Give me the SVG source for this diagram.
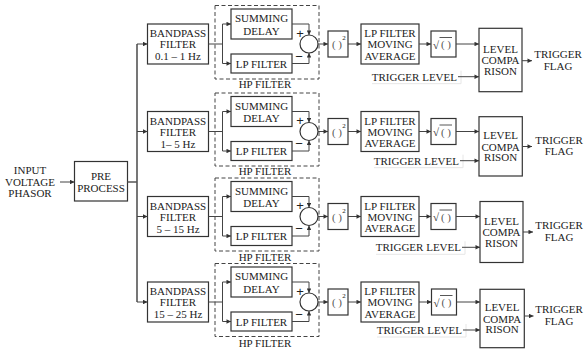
<svg xmlns="http://www.w3.org/2000/svg" width="584" height="352" viewBox="0 0 584 352">
<style>
.box{fill:#fff;stroke:#333;stroke-width:1.2}
.dash{fill:none;stroke:#444;stroke-width:1;stroke-dasharray:4 2.5}
.t{font-family:'Liberation Serif','Times New Roman','DejaVu Serif',serif;font-size:11px;fill:#222;text-anchor:middle}
.e{text-anchor:end}
.g{fill:#555}
.s{font-size:7px}
.pm{font-family:'Liberation Sans',sans-serif;font-size:13px;fill:#222;text-anchor:middle}
.c{fill:none;stroke:#444;stroke-width:1}
.a{marker-end:url(#ah)}
.bus{fill:none;stroke:#555;stroke-width:1.6}
.faint{fill:none;stroke:#e6e6e6;stroke-width:1}
.ol{stroke:#444;stroke-width:0.9}
</style>
<defs>
<marker id="ah" viewBox="0 0 6 6" refX="6" refY="3" markerWidth="5" markerHeight="4.5" markerUnits="userSpaceOnUse" orient="auto"><path d="M0,0 L6,3 L0,6 z" fill="#333"/></marker>
</defs>

<g id="input"><text class="t"><tspan x="30" y="173.5">INPUT</tspan><tspan x="30" y="185.5">VOLTAGE</tspan><tspan x="30" y="197">PHASOR</tspan></text></g>
<g id="preprocess"><rect class="box" x="74.5" y="161.5" width="53" height="39.5"/><text class="t"><tspan x="101" y="179.5">PRE</tspan><tspan x="101" y="191.5">PROCESS</tspan></text></g>

<!-- Row 1 -->
<g id="bp1"><rect class="box" x="147.5" y="24" width="61" height="40"/><text class="t"><tspan x="178" y="37">BANDPASS</tspan><tspan x="178" y="48">FILTER</tspan><tspan x="178" y="60">0.1 – 1 Hz</tspan></text></g>
<g id="hp1"><rect class="dash" x="215" y="5.5" width="104" height="73.5"/><text class="t" x="265" y="88">HP FILTER</text></g>
<g id="sd1"><rect class="box" x="231" y="9" width="61" height="30"/><text class="t"><tspan x="261.5" y="22">SUMMING</tspan><tspan x="261.5" y="34.5">DELAY</tspan></text></g>
<g id="lp1"><rect class="box" x="231" y="54" width="61" height="19"/><text class="t" x="261.5" y="67.5">LP FILTER</text></g>
<g id="sum1"><circle class="box" cx="309" cy="44" r="9"/><text class="pm" x="300" y="37.5">+</text><text class="pm" x="299" y="60.5">−</text></g>
<g id="sq1"><rect class="box" x="328" y="31" width="20" height="26"/><text class="t g" x="337" y="48">( )</text><text class="t s" x="344" y="40">2</text></g>
<g id="ma1"><rect class="box" x="361" y="24" width="58" height="40"/><text class="t"><tspan x="390" y="37">LP FILTER</tspan><tspan x="390" y="48">MOVING</tspan><tspan x="390" y="59.5">AVERAGE</tspan></text></g>
<g id="sqrt1"><rect class="box" x="431" y="31" width="25" height="26"/><text class="t" x="436" y="48.5">√</text><text class="t g" x="446" y="48">( )</text><line class="ol" x1="439.5" y1="37.5" x2="452" y2="37.5"/></g>
<g id="lc1"><rect class="box" x="479" y="28.3" width="43" height="63.4"/><text class="t"><tspan x="500.5" y="52.5">LEVEL</tspan><tspan x="500.5" y="64.2">COMPA</tspan><tspan x="500.5" y="74.8">RISON</tspan></text></g>
<g id="tl1"><path class="faint" d="M372,83.7 H461 V70.7"/><text class="t e" x="457" y="80.5">TRIGGER LEVEL</text></g>
<g id="tf1"><text class="t"><tspan x="558" y="58.1">TRIGGER</tspan><tspan x="558" y="69.5">FLAG</tspan></text></g>

<!-- Row 2 -->
<g id="bp2"><rect class="box" x="147.5" y="111.5" width="61" height="40"/><text class="t"><tspan x="178" y="124.5">BANDPASS</tspan><tspan x="178" y="135.5">FILTER</tspan><tspan x="178" y="147.5">1– 5 Hz</tspan></text></g>
<g id="hp2"><rect class="dash" x="215" y="93" width="104" height="73"/><text class="t" x="265" y="175">HP FILTER</text></g>
<g id="sd2"><rect class="box" x="231" y="96.5" width="61" height="30"/><text class="t"><tspan x="261.5" y="109.5">SUMMING</tspan><tspan x="261.5" y="122">DELAY</tspan></text></g>
<g id="lp2"><rect class="box" x="231" y="141.5" width="61" height="19"/><text class="t" x="261.5" y="155">LP FILTER</text></g>
<g id="sum2"><circle class="box" cx="309" cy="131.5" r="9"/><text class="pm" x="300" y="125">+</text><text class="pm" x="299" y="148">−</text></g>
<g id="sq2"><rect class="box" x="328" y="118.5" width="20" height="26"/><text class="t g" x="337" y="135.5">( )</text><text class="t s" x="344" y="127.5">2</text></g>
<g id="ma2"><rect class="box" x="361" y="111.5" width="58" height="40"/><text class="t"><tspan x="390" y="124.5">LP FILTER</tspan><tspan x="390" y="135.5">MOVING</tspan><tspan x="390" y="147">AVERAGE</tspan></text></g>
<g id="sqrt2"><rect class="box" x="431" y="118.5" width="25" height="26"/><text class="t" x="436" y="136">√</text><text class="t g" x="446" y="135.5">( )</text><line class="ol" x1="439.5" y1="125" x2="452" y2="125"/></g>
<g id="lc2"><rect class="box" x="479" y="116.7" width="43.3" height="59.3"/><text class="t"><tspan x="500.6" y="138.9">LEVEL</tspan><tspan x="500.6" y="150.5">COMPA</tspan><tspan x="500.6" y="161.2">RISON</tspan></text></g>
<g id="tl2"><path class="faint" d="M374,167.7 H463 V154.7"/><text class="t e" x="459" y="164.5">TRIGGER LEVEL</text></g>
<g id="tf2"><text class="t"><tspan x="559" y="143.9">TRIGGER</tspan><tspan x="559" y="155.3">FLAG</tspan></text></g>

<!-- Row 3 -->
<g id="bp3"><rect class="box" x="147.5" y="196.5" width="61" height="40"/><text class="t"><tspan x="178" y="209.5">BANDPASS</tspan><tspan x="178" y="220.5">FILTER</tspan><tspan x="178" y="232.5">5 – 15 Hz</tspan></text></g>
<g id="hp3"><rect class="dash" x="215" y="178" width="104" height="73"/><text class="t" x="265" y="260.5">HP FILTER</text></g>
<g id="sd3"><rect class="box" x="231" y="181.5" width="61" height="30"/><text class="t"><tspan x="261.5" y="194.5">SUMMING</tspan><tspan x="261.5" y="207">DELAY</tspan></text></g>
<g id="lp3"><rect class="box" x="231" y="226.5" width="61" height="19"/><text class="t" x="261.5" y="240">LP FILTER</text></g>
<g id="sum3"><circle class="box" cx="309" cy="216.5" r="9"/><text class="pm" x="300" y="210">+</text><text class="pm" x="299" y="233">−</text></g>
<g id="sq3"><rect class="box" x="328" y="203.5" width="20" height="26"/><text class="t g" x="337" y="220.5">( )</text><text class="t s" x="344" y="212.5">2</text></g>
<g id="ma3"><rect class="box" x="361" y="196.5" width="58" height="40"/><text class="t"><tspan x="390" y="209.5">LP FILTER</tspan><tspan x="390" y="220.5">MOVING</tspan><tspan x="390" y="232">AVERAGE</tspan></text></g>
<g id="sqrt3"><rect class="box" x="431" y="203.5" width="25" height="26"/><text class="t" x="436" y="221">√</text><text class="t g" x="446" y="220.5">( )</text><line class="ol" x1="439.5" y1="210" x2="452" y2="210"/></g>
<g id="lc3"><rect class="box" x="480" y="201.5" width="43" height="61"/><text class="t"><tspan x="501.5" y="224.5">LEVEL</tspan><tspan x="501.5" y="236.2">COMPA</tspan><tspan x="501.5" y="246.8">RISON</tspan></text></g>
<g id="tl3"><path class="faint" d="M376,254.3 H465 V241.3"/><text class="t e" x="461" y="251.1">TRIGGER LEVEL</text></g>
<g id="tf3"><text class="t"><tspan x="559" y="229.4">TRIGGER</tspan><tspan x="559" y="240.8">FLAG</tspan></text></g>

<!-- Row 4 -->
<g id="bp4"><rect class="box" x="147.5" y="282" width="61" height="40"/><text class="t"><tspan x="178" y="295">BANDPASS</tspan><tspan x="178" y="306">FILTER</tspan><tspan x="178" y="318">15 – 25 Hz</tspan></text></g>
<g id="hp4"><rect class="dash" x="215" y="263.5" width="104" height="73"/><text class="t" x="265" y="347">HP FILTER</text></g>
<g id="sd4"><rect class="box" x="231" y="267" width="61" height="30"/><text class="t"><tspan x="261.5" y="280">SUMMING</tspan><tspan x="261.5" y="292.5">DELAY</tspan></text></g>
<g id="lp4"><rect class="box" x="231" y="312" width="61" height="19"/><text class="t" x="261.5" y="325.5">LP FILTER</text></g>
<g id="sum4"><circle class="box" cx="309" cy="302" r="9"/><text class="pm" x="300" y="295.5">+</text><text class="pm" x="299" y="318.5">−</text></g>
<g id="sq4"><rect class="box" x="328" y="289" width="20" height="26"/><text class="t g" x="337" y="306">( )</text><text class="t s" x="344" y="298">2</text></g>
<g id="ma4"><rect class="box" x="361" y="282" width="58" height="40"/><text class="t"><tspan x="390" y="295">LP FILTER</tspan><tspan x="390" y="306">MOVING</tspan><tspan x="390" y="317.5">AVERAGE</tspan></text></g>
<g id="sqrt4"><rect class="box" x="431.5" y="289" width="25" height="26"/><text class="t" x="436.5" y="306.5">√</text><text class="t g" x="446.5" y="306">( )</text><line class="ol" x1="440" y1="295.5" x2="452.5" y2="295.5"/></g>
<g id="lc4"><rect class="box" x="480" y="289.3" width="44.3" height="58.4"/><text class="t"><tspan x="502.1" y="311">LEVEL</tspan><tspan x="502.1" y="322.7">COMPA</tspan><tspan x="502.1" y="333.3">RISON</tspan></text></g>
<g id="tl4"><path class="faint" d="M377,337 H466 V324"/><text class="t e" x="462" y="333.8">TRIGGER LEVEL</text></g>
<g id="tf4"><text class="t"><tspan x="559" y="313.4">TRIGGER</tspan><tspan x="559" y="324.8">FLAG</tspan></text></g>

<g id="connectors">
<path class="c a" d="M60,182 H74.5"/>
<path class="bus" d="M127.5,182 H137 M137,44 V302"/>
<path class="c a" d="M137,44 H147.5"/>
<path class="c a" d="M137,131.5 H147.5"/>
<path class="c a" d="M137,216.5 H147.5"/>
<path class="c a" d="M137,302 H147.5"/>

<path class="c" d="M208.5,44 H222.5 M222.5,24 V63.5"/>
<path class="c a" d="M222.5,24 H231"/><path class="c a" d="M222.5,63.5 H231"/>
<path class="c a" d="M292,24 H309 V35"/><path class="c a" d="M292,63.5 H309 V53"/>
<path class="c a" d="M318,44 H328"/><path class="c a" d="M348,44 H361"/>
<path class="c a" d="M419,44 H431"/><path class="c a" d="M456,44 H479"/>
<path class="c a" d="M458,76.7 H479"/><path class="c a" d="M522,60.7 H532"/>

<path class="c" d="M208.5,131.5 H222.5 M222.5,111.5 V151"/>
<path class="c a" d="M222.5,111.5 H231"/><path class="c a" d="M222.5,151 H231"/>
<path class="c a" d="M292,111.5 H309 V122.5"/><path class="c a" d="M292,151 H309 V140.5"/>
<path class="c a" d="M318,131.5 H328"/><path class="c a" d="M348,131.5 H361"/>
<path class="c a" d="M419,131.5 H431"/><path class="c a" d="M456,131.5 H479"/>
<path class="c a" d="M460,160.7 H479"/><path class="c a" d="M522.3,146.5 H532"/>

<path class="c" d="M208.5,216.5 H222.5 M222.5,196.5 V236"/>
<path class="c a" d="M222.5,196.5 H231"/><path class="c a" d="M222.5,236 H231"/>
<path class="c a" d="M292,196.5 H309 V207.5"/><path class="c a" d="M292,236 H309 V225.5"/>
<path class="c a" d="M318,216.5 H328"/><path class="c a" d="M348,216.5 H361"/>
<path class="c a" d="M419,216.5 H431"/><path class="c a" d="M456,216.5 H480"/>
<path class="c a" d="M462,247.3 H480"/><path class="c a" d="M523,232 H533"/>

<path class="c" d="M208.5,302 H222.5 M222.5,282 V321.5"/>
<path class="c a" d="M222.5,282 H231"/><path class="c a" d="M222.5,321.5 H231"/>
<path class="c a" d="M292,282 H309 V293"/><path class="c a" d="M292,321.5 H309 V311"/>
<path class="c a" d="M318,302 H328"/><path class="c a" d="M348,302 H361"/>
<path class="c a" d="M419,302 H431.5"/><path class="c a" d="M456.5,302 H480"/>
<path class="c a" d="M463,330 H480"/><path class="c a" d="M524.3,316 H533.5"/>
</g>
</svg>
